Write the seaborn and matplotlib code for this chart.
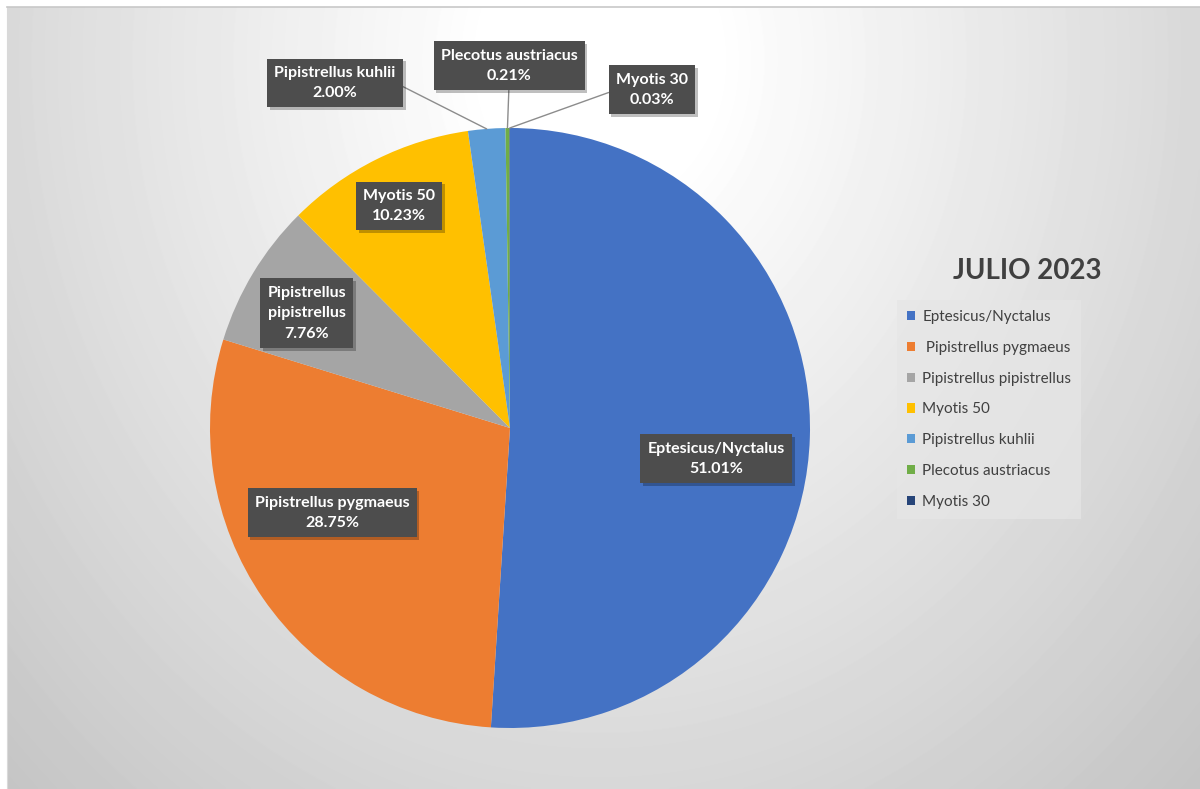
import textwrap
import numpy as np
import matplotlib
matplotlib.use("Agg")
import matplotlib.pyplot as plt
import matplotlib.patheffects as pe
from matplotlib.patches import Patch
import seaborn as sns

# Bat species recorded in July 2023, share of all passes (%)
categories = [
    "Eptesicus/Nyctalus",
    " Pipistrellus pygmaeus",
    "Pipistrellus pipistrellus",
    "Myotis 50",
    "Pipistrellus kuhlii",
    "Plecotus austriacus",
    "Myotis 30",
]
shares = [51.01, 28.75, 7.76, 10.23, 2.00, 0.21, 0.03]
colors = ["#4472C4", "#ED7D31", "#A5A5A5", "#FFC000", "#5B9BD5", "#70AD47", "#264478"]
title = "JULIO 2023"

# label box centres in pie units (radius = 1); outer labels get a leader line
label_pos = [(0.687, -0.103), (-0.593, -0.283), (-0.677, 0.383), (-0.37, 0.74),
             (-0.583, 1.15), (-0.003, 1.207), (0.473, 1.127)]
leader_from = [None, None, None, None, (1.0, 0.5), (0.5, 0.0), (0.0, 0.5)]
wrap_width = {"Pipistrellus pipistrellus": 12}

sns.set_theme(style="white")
plt.rcParams["font.family"] = ["Lato", "DejaVu Sans"]

W, H = 1200, 789
fig = plt.figure(figsize=(W / 100, H / 100), dpi=100)
fig.patch.set_facecolor("white")

# soft radial background of the chart area
bg = fig.add_axes([7 / W, 0, (W - 7) / W, (H - 7) / H])
bw, bh = W - 7, H - 7
xx, yy = np.meshgrid(np.arange(bw) + 7, np.arange(bh) + 7)
d = np.sqrt(((xx - 600) / 760.0) ** 2 + ((yy - 60) / 900.0) ** 2)
t = np.clip((d - 0.15) / 1.0, 0, 1)
shade = (255 - 60 * t) / 255.0
bg.imshow(shade, cmap="gray", vmin=0, vmax=1, aspect="auto", interpolation="bilinear")
bg.set_xticks([])
bg.set_yticks([])
for side in ["right", "bottom"]:
    bg.spines[side].set_visible(False)
bg.spines["top"].set_color("#c8c8c8")
bg.spines["left"].set_color("#d9d9d9")
bg.spines["top"].set_linewidth(1.2)
bg.spines["left"].set_linewidth(0.8)

# pie
ax = fig.add_axes([210 / W, 61 / H, 600 / W, 600 / H])
ax.set_facecolor("none")
wedges, _ = ax.pie(shares, colors=colors, startangle=90, counterclock=False,
                   radius=1.0, wedgeprops=dict(linewidth=0))
ax.set_xlim(-1, 1)
ax.set_ylim(-1, 1)
ax.axis("off")

box_style = dict(boxstyle="square,pad=0.45", facecolor="#4d4d4d", edgecolor="none")
for i, (name, val) in enumerate(zip(categories, shares)):
    name = name.strip()
    if name in wrap_width:
        name = textwrap.fill(name, wrap_width[name])
    text = f"{name}\n{val:.2f}%"
    w = wedges[i]
    mid = np.deg2rad((w.theta1 + w.theta2) / 2)
    edge = (np.cos(mid), np.sin(mid))
    kw = {}
    if leader_from[i] is not None:
        kw["arrowprops"] = dict(arrowstyle="-", color="#8c8c8c", lw=1.0,
                                shrinkA=0, shrinkB=0, relpos=leader_from[i])
    ann = ax.annotate(text, xy=edge, xytext=label_pos[i], ha="center", va="center",
                      color="white", fontsize=11.5, fontweight="bold",
                      linespacing=1.6, bbox=box_style, annotation_clip=False,
                      zorder=5, **kw)
    ann.get_bbox_patch().set_path_effects(
        [pe.SimplePatchShadow(offset=(2, -2), shadow_rgbFace="black", alpha=0.25),
         pe.Normal()])

# title and legend
fig.text(1027 / W, 1 - 271 / H, title, ha="center", va="center",
         fontsize=20, fontweight="bold", color="#404040")

handles = [Patch(facecolor=c, edgecolor="none") for c in colors]
leg = fig.legend(handles, categories, loc="upper left",
                 bbox_to_anchor=(897 / W, 1 - 300 / H), frameon=True,
                 fontsize=11, labelspacing=1.1, handlelength=0.55,
                 handleheight=0.55, handletextpad=0.45, borderpad=0.65,
                 borderaxespad=0, fancybox=False, labelcolor="#404040")
frame = leg.get_frame()
frame.set_facecolor("#e6e6e6")
frame.set_alpha(0.7)
frame.set_edgecolor("none")

fig.savefig("out.png", dpi=100, facecolor=fig.get_facecolor())
